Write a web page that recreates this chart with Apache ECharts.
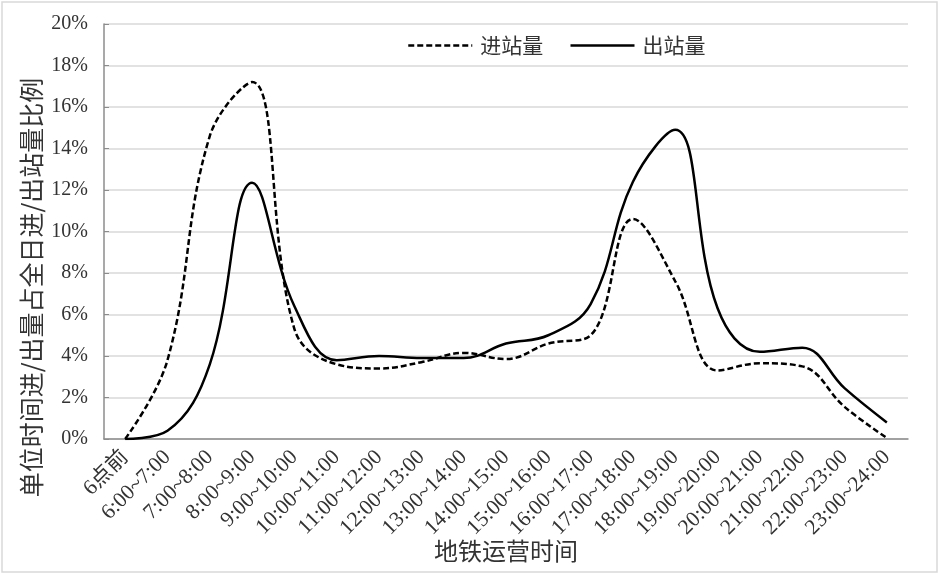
<!DOCTYPE html>
<html lang="zh-CN">
  <head>
    <meta charset="UTF-8" />
    <title>地铁进出站量</title>
    <style>
      html,
      body {
        margin: 0;
        padding: 0;
        background: #ffffff;
      }
      #app {
        width: 939px;
        height: 575px;
      }
    </style>
  </head>
  <body>
    <div id="app"></div>
    <script src="https://cdn.jsdelivr.net/npm/echarts@6/dist/echarts.min.js"></script>
    <script>
      var hours = [
        '6点前', '6:00~7:00', '7:00~8:00', '8:00~9:00', '9:00~10:00',
        '10:00~11:00', '11:00~12:00', '12:00~13:00', '13:00~14:00',
        '14:00~15:00', '15:00~16:00', '16:00~17:00', '17:00~18:00',
        '18:00~19:00', '19:00~20:00', '20:00~21:00', '21:00~22:00',
        '22:00~23:00', '23:00~24:00'
      ]
      // 进站量 (%)
      var inRatio = [0, 3.8, 14.6, 17.2, 5.3, 3.6, 3.4, 3.7, 4.15, 3.85, 4.6, 5.0, 10.6, 7.6, 3.3, 3.65, 3.5, 1.55, 0.05]
      // 出站量 (%)
      var outRatio = [0, 0.4, 3.6, 12.35, 6.4, 3.8, 4.0, 3.9, 3.9, 4.6, 5.0, 6.5, 12.4, 14.9, 6.3, 4.2, 4.4, 2.45, 0.8]

      var serif = '"Liberation Serif", "Noto Sans CJK SC", serif'
      var cjk = '"Noto Sans CJK SC", "Liberation Serif", sans-serif'

      var chart = echarts.init(document.getElementById('app'))
      chart.setOption({
        animation: false,
        backgroundColor: '#ffffff',
        graphic: [
          {
            type: 'rect',
            shape: { x: 2, y: 2, width: 935, height: 570 },
            style: { fill: 'none', stroke: '#d9d9d9', lineWidth: 1.5 },
            silent: true
          }
        ],
        grid: { left: 104, right: 31, top: 24, bottom: 136 },
        legend: {
          left: 407,
          top: 35,
          padding: 0,
          itemWidth: 64,
          itemHeight: 14,
          itemGap: 26,
          itemStyle: { opacity: 0 },
          lineStyle: { width: 2.5 },
          textStyle: { fontFamily: cjk, fontSize: 21, color: '#333', padding: [0, 0, 0, 3] },
          data: ['进站量', '出站量']
        },
        xAxis: {
          type: 'category',
          data: hours,
          boundaryGap: true,
          name: '地铁运营时间',
          nameLocation: 'middle',
          nameGap: 100,
          nameMoveOverlap: false,
          nameTextStyle: { fontFamily: cjk, fontSize: 24, color: '#333' },
          axisLine: { lineStyle: { color: '#8c8c8c', width: 1.5 } },
          axisTick: { inside: true, length: 5, lineStyle: { color: '#8c8c8c' } },
          axisLabel: {
            interval: 0,
            rotate: 45,
            margin: 15,
            fontFamily: serif,
            fontSize: 21.5,
            color: '#333'
          }
        },
        yAxis: {
          type: 'value',
          min: 0,
          max: 20,
          interval: 2,
          name: '单位时间进/出量占全日进/出站量比例',
          nameLocation: 'middle',
          nameGap: 60,
          nameMoveOverlap: false,
          nameTextStyle: { fontFamily: cjk, fontSize: 25, color: '#333', padding: [0, 112, 0, 0] },
          axisLine: { show: true, lineStyle: { color: '#8c8c8c', width: 1.5 } },
          axisTick: { show: true, inside: true, length: 5, lineStyle: { color: '#8c8c8c' } },
          splitLine: { lineStyle: { color: '#d9d9d9', width: 1.5 } },
          axisLabel: {
            formatter: '{value}%',
            margin: 16,
            fontFamily: serif,
            fontSize: 20,
            color: '#333'
          }
        },
        series: [
          {
            name: '进站量',
            type: 'line',
            smooth: 0.4,
            symbol: 'none',
            data: inRatio,
            itemStyle: { color: '#000' },
            lineStyle: { color: '#000', width: 2.5, type: [6, 3] }
          },
          {
            name: '出站量',
            type: 'line',
            smooth: 0.4,
            symbol: 'none',
            data: outRatio,
            itemStyle: { color: '#000' },
            lineStyle: { color: '#000', width: 2.5 }
          }
        ]
      })
    </script>
  </body>
</html>
